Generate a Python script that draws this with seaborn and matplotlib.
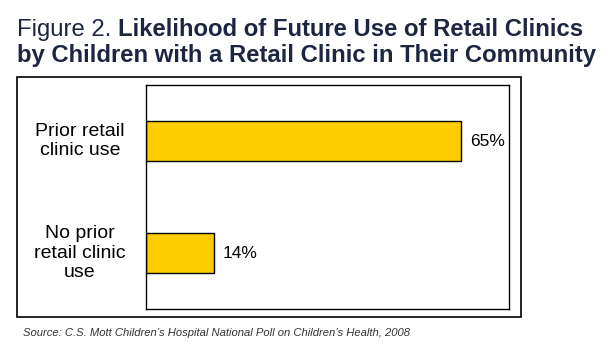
import pandas as pd
import seaborn as sns
import matplotlib.pyplot as plt
from matplotlib.patches import Rectangle

# data
groups = ['Prior retail\nclinic use', 'No prior\nretail clinic\nuse']
likelihood = [65, 14]
value_labels = ['65%', '14%']

df = pd.DataFrame({'group': groups, 'pct': likelihood})

sns.set_style("white")
plt.rcParams['font.family'] = ['Liberation Sans', 'DejaVu Sans']

W, H = 611, 354
fig = plt.figure(figsize=(W / 100, H / 100), dpi=100)
ax = fig.add_axes([146 / W, 1 - 309 / H, (509 - 146) / W, (309 - 85) / H])

sns.barplot(x='pct', y='group', data=df, orient='h', color='#FFCC00',
            width=0.36, edgecolor='black', linewidth=1, saturation=1, ax=ax)
ax.set_xlim(0, 75)
ax.set_ylim(1.5, -0.5)
ax.set_xticks([])
ax.set_yticklabels([])
ax.tick_params(axis='y', length=0)
ax.set_xlabel('')
ax.set_ylabel('')
for s in ax.spines.values():
    s.set_visible(True)
    s.set_color('black')
    s.set_linewidth(1)

# category labels, centred in the space left of the plot
for i, g in enumerate(groups):
    ax.text(-0.182, i, g, transform=ax.get_yaxis_transform(), ha='center',
            va='center', multialignment='center', fontsize=14, linespacing=1.22,
            color='black')

for i, (v, t) in enumerate(zip(likelihood, value_labels)):
    ax.text(v + 1.9, i, t, va='center', ha='left', fontsize=12.5, color='black')

# outer frame
fig.patches.append(Rectangle((17 / W, 1 - 317 / H), (521 - 17) / W, (317 - 77) / H,
                             transform=fig.transFigure, fill=False,
                             edgecolor='black', linewidth=1.2))

# title
navy = '#1C2541'
t1 = fig.text(17 / W, 1 - 36 / H, 'Figure 2. ', fontsize=17.2, color=navy)
fig.canvas.draw()
bb = t1.get_window_extent()
fig.text(bb.x1 / W, 1 - 36 / H, 'Likelihood of Future Use of Retail Clinics',
         fontsize=17.2, color=navy, fontweight='bold')
fig.text(17 / W, 1 - 62 / H, 'by Children with a Retail Clinic in Their Community',
         fontsize=17.2, color=navy, fontweight='bold')

fig.text(23 / W, 1 - 336 / H,
         'Source: C.S. Mott Children\u2019s Hospital National Poll on Children\u2019s Health, 2008',
         fontsize=8.1, style='italic', color='#333333')

fig.savefig('out.png', dpi=100)
